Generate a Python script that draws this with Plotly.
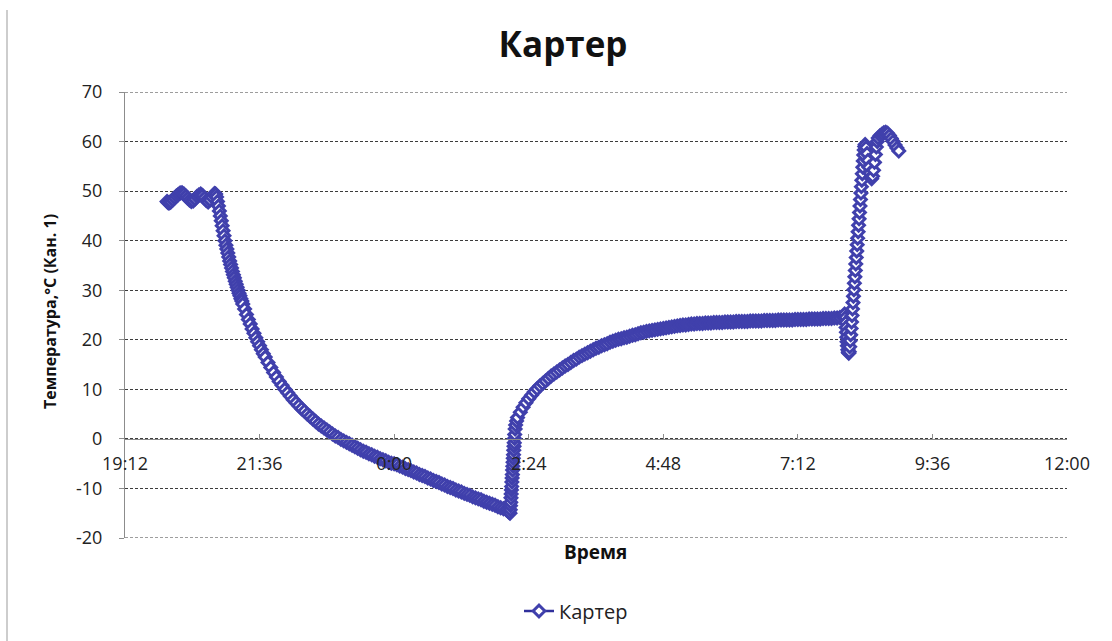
import plotly.graph_objects as go
from datetime import datetime

# ---------------- data (clock time, °C) ----------------
plateau_t = ["19:57", "19:58", "19:59", "20:00", "20:01", "20:03", "20:05", "20:07", "20:09", "20:11",
             "20:13", "20:15", "20:17", "20:19", "20:21", "20:23", "20:25", "20:27", "20:29", "20:31",
             "20:33", "20:35", "20:37", "20:39", "20:41", "20:43", "20:45", "20:47", "20:48"]
plateau_v = [47.9, 47.7, 47.6, 47.7, 47.8, 48.2, 48.6, 49.0, 49.3, 49.6,
             49.7, 49.4, 49.0, 48.6, 48.2, 47.9, 48.0, 48.4, 48.9, 49.2,
             49.4, 49.1, 48.6, 48.1, 47.8, 48.2, 48.8, 49.3, 49.5]

drop_t = ["20:49", "20:50", "20:51", "20:52", "20:53", "20:54", "20:55", "20:56", "20:57", "20:58",
          "20:59", "21:00", "21:01", "21:02", "21:03", "21:04", "21:05", "21:06", "21:07", "21:08",
          "21:09", "21:10", "21:11", "21:12", "21:13", "21:14", "21:15", "21:16", "21:17", "21:18",
          "21:20", "21:22", "21:24", "21:26", "21:28", "21:30", "21:32", "21:34", "21:36", "21:38",
          "21:40", "21:42"]
drop_v = [49.4, 48.8, 47.9, 47.0, 46.0, 45.0, 44.0, 43.0, 42.0, 41.0,
          40.0, 39.1, 38.3, 37.5, 36.7, 35.9, 35.2, 34.5, 33.8, 33.1,
          32.5, 31.8, 31.2, 30.6, 30.0, 29.4, 28.9, 28.3, 27.8, 27.2,
          26.2, 25.1, 24.1, 23.2, 22.2, 21.3, 20.4, 19.6, 18.8, 18.0,
          17.2, 16.5]

cooling_t = ["21:45", "21:48", "21:51", "21:54", "21:57", "22:00", "22:03", "22:06", "22:09", "22:12",
             "22:15", "22:18", "22:21", "22:24", "22:27", "22:30", "22:33", "22:36", "22:39", "22:42",
             "22:45", "22:48", "22:51", "22:54", "22:57", "23:00", "23:03", "23:06", "23:09", "23:12",
             "23:15", "23:18", "23:21", "23:24", "23:27", "23:30", "23:33", "23:36", "23:39", "23:42",
             "23:45", "23:48", "23:51", "23:54", "23:57", "00:00", "00:03", "00:06", "00:09", "00:12",
             "00:15", "00:18", "00:21", "00:24", "00:27", "00:30", "00:33", "00:36", "00:39", "00:42",
             "00:45", "00:48", "00:51", "00:54", "00:57", "01:00", "01:03", "01:06", "01:09", "01:12",
             "01:15", "01:18", "01:21", "01:24", "01:27", "01:30", "01:33", "01:36", "01:39", "01:42",
             "01:45", "01:48", "01:51", "01:54", "01:57", "02:00", "02:02", "02:03"]
cooling_v = [15.4, 14.4, 13.4, 12.5, 11.6, 10.8, 10.0, 9.3, 8.6, 7.9,
             7.3, 6.7, 6.1, 5.6, 5.0, 4.5, 4.0, 3.5, 3.0, 2.6,
             2.2, 1.8, 1.4, 1.0, 0.6, 0.3, -0.1, -0.4, -0.7, -1.0,
             -1.3, -1.6, -1.9, -2.2, -2.5, -2.7, -3.0, -3.2, -3.5, -3.7,
             -4.0, -4.2, -4.4, -4.7, -4.9, -5.0, -5.2, -5.5, -5.7, -6.0,
             -6.2, -6.4, -6.7, -6.9, -7.2, -7.4, -7.6, -7.9, -8.1, -8.4,
             -8.6, -8.8, -9.1, -9.3, -9.6, -9.8, -10.0, -10.3, -10.5, -10.7,
             -11.0, -11.2, -11.4, -11.7, -11.9, -12.1, -12.3, -12.6, -12.8, -13.0,
             -13.2, -13.4, -13.7, -13.9, -14.1, -14.3, -14.6, -14.8]

jump1_t = ["02:04:00", "02:04:15", "02:04:30", "02:04:45", "02:05:00", "02:05:15", "02:05:30", "02:05:45",
           "02:06:00", "02:06:15", "02:06:30", "02:06:45", "02:07:00", "02:07:15", "02:07:30", "02:07:45",
           "02:08:00", "02:08:15", "02:08:30", "02:08:45", "02:09:00", "02:09:30", "02:10:00", "02:11:00"]
jump1_v = [-15.0, -14.3, -13.5, -12.8, -11.9, -11.1, -10.3, -9.6,
           -8.7, -7.9, -7.2, -6.3, -5.5, -4.7, -3.9, -3.2,
           -2.3, -1.5, -0.8, 0.1, 0.9, 2.0, 2.8, 3.6]

warming_t = ["02:12", "02:15", "02:18", "02:21", "02:24", "02:27", "02:30", "02:33", "02:36", "02:39",
             "02:42", "02:45", "02:48", "02:51", "02:54", "02:57", "03:00", "03:03", "03:06", "03:09",
             "03:12", "03:15", "03:18", "03:21", "03:24", "03:27", "03:30", "03:33", "03:36", "03:39",
             "03:42", "03:45", "03:48", "03:51", "03:54", "03:57", "04:00", "04:03", "04:06", "04:09",
             "04:12", "04:15", "04:18", "04:21", "04:24", "04:27", "04:30", "04:33", "04:36", "04:39",
             "04:42", "04:45", "04:48", "04:51", "04:54", "04:57", "05:00", "05:03", "05:06", "05:09",
             "05:12", "05:15", "05:18", "05:21"]
warming_v = [4.3, 5.4, 6.4, 7.3, 8.1, 8.8, 9.5, 10.1, 10.7, 11.2,
             11.7, 12.2, 12.7, 13.1, 13.5, 13.9, 14.3, 14.7, 15.0, 15.4,
             15.8, 16.1, 16.5, 16.8, 17.1, 17.4, 17.7, 18.0, 18.3, 18.5,
             18.8, 19.0, 19.2, 19.5, 19.7, 19.9, 20.1, 20.2, 20.4, 20.5,
             20.7, 20.9, 21.0, 21.2, 21.4, 21.5, 21.7, 21.8, 21.9, 22.0,
             22.1, 22.2, 22.3, 22.4, 22.5, 22.6, 22.7, 22.8, 22.9, 23.0,
             23.0, 23.1, 23.2, 23.2]

steady_t = ["05:24", "05:27", "05:30", "05:33", "05:36", "05:39", "05:42", "05:45", "05:48", "05:51",
            "05:54", "05:57", "06:00", "06:03", "06:06", "06:09", "06:12", "06:15", "06:18", "06:21",
            "06:24", "06:27", "06:30", "06:33", "06:36", "06:39", "06:42", "06:45", "06:48", "06:51",
            "06:54", "06:57", "07:00", "07:03", "07:06", "07:09", "07:12", "07:15", "07:18", "07:21",
            "07:24", "07:27", "07:30", "07:33", "07:36", "07:39", "07:42", "07:45", "07:48", "07:51",
            "07:54", "07:57", "08:00", "08:02"]
steady_v = [23.3, 23.3, 23.3, 23.4, 23.4, 23.4, 23.5, 23.5, 23.5, 23.5,
            23.6, 23.6, 23.6, 23.6, 23.7, 23.7, 23.7, 23.7, 23.7, 23.8,
            23.8, 23.8, 23.8, 23.8, 23.9, 23.9, 23.9, 23.9, 23.9, 24.0,
            24.0, 24.0, 24.0, 24.0, 24.0, 24.1, 24.1, 24.1, 24.1, 24.1,
            24.2, 24.2, 24.2, 24.2, 24.2, 24.3, 24.3, 24.3, 24.3, 24.4,
            24.4, 24.5, 24.7, 25.2]

dip_t = ["08:03:00", "08:03:20", "08:03:40", "08:04:00", "08:04:20", "08:04:40", "08:05:00", "08:05:30",
         "08:06:00", "08:06:30"]
dip_v = [24.5, 23.5, 22.5, 21.5, 20.5, 19.6, 18.8, 18.0, 17.5, 17.3]

rise_t = ["08:07:00", "08:07:30", "08:08:00", "08:08:30", "08:09:00", "08:09:30", "08:10:00", "08:10:30",
          "08:11:00", "08:11:30", "08:12:00", "08:12:30", "08:13:00", "08:13:30", "08:14:00", "08:14:30",
          "08:15:00", "08:15:30", "08:16:00", "08:16:30", "08:17:00", "08:17:30", "08:18:00", "08:18:30",
          "08:19:00", "08:19:30", "08:20:00", "08:20:30", "08:21:00", "08:21:30", "08:22:00", "08:22:30",
          "08:23:00", "08:23:30", "08:24:00"]
rise_v = [17.6, 18.6, 19.8, 21.0, 22.3, 23.6, 24.9, 26.2,
          27.5, 28.8, 30.1, 31.4, 32.7, 34.0, 35.3, 36.6,
          37.9, 39.2, 40.5, 41.8, 43.1, 44.4, 45.7, 47.0,
          48.3, 49.6, 50.9, 52.2, 53.5, 54.8, 56.1, 57.3,
          58.3, 59.0, 59.4]

top_t = ["08:25", "08:26", "08:27", "08:28", "08:29", "08:30", "08:31", "08:32", "08:33", "08:34",
         "08:35", "08:36", "08:37", "08:38", "08:40", "08:42", "08:44", "08:46", "08:48", "08:50",
         "08:52", "08:54", "08:56", "08:58", "09:00"]
top_v = [58.8, 57.6, 56.2, 54.8, 53.6, 52.8, 52.5, 53.0, 54.2, 55.8,
         57.4, 58.9, 60.0, 60.7, 61.2, 61.5, 61.8, 61.9, 61.7, 61.2,
         60.6, 60.0, 59.3, 58.7, 58.1]

series_name = "Картер"
chart_title = "Картер"
x_title = "Время"
y_title = "Температура,°C (Кан. 1)"
y_ticks = [-20, -10, 0, 10, 20, 30, 40, 50, 60, 70]
y_tick_labels = ["-20", "-10", "0", "10", "20", "30", "40", "50", "60", "70"]
x_tick_labels = ["19:12", "21:36", "0:00", "2:24", "4:48", "7:12", "9:36", "12:00"]


def to_dt(s):
    parts = [int(p) for p in s.split(":")]
    while len(parts) < 3:
        parts.append(0)
    h, m, sec = parts
    day = 1 if h >= 19 else 2
    return datetime(2000, 1, day, h, m, sec)


all_t = plateau_t + drop_t + cooling_t + jump1_t + warming_t + steady_t + dip_t + rise_t + top_t
all_v = plateau_v + drop_v + cooling_v + jump1_v + warming_v + steady_v + dip_v + rise_v + top_v
x_vals = [to_dt(s) for s in all_t]

tick_dt = [to_dt(s) for s in x_tick_labels]
x_range = [tick_dt[0], tick_dt[-1]]
y_range = [y_ticks[0], y_ticks[-1]]
y_span = y_range[1] - y_range[0]

line_col = "#30309C"
mark_col = "#4040AC"
grid_col = "#3C3C3C"
grid_dash = "3px,2px"

fig = go.Figure()

# grid lines at the two ends of the value axis (plotly omits them at the range edges)
for yv in (y_ticks[0], y_ticks[-1]):
    fig.add_shape(type="line", xref="paper", yref="y", x0=0, x1=1, y0=yv, y1=yv,
                  line=dict(color=grid_col, width=1, dash=grid_dash), layer="below")

fig.add_trace(go.Scatter(
    x=x_vals, y=all_v, mode="lines+markers", name=series_name,
    line=dict(color=line_col, width=2.5),
    marker=dict(symbol="diamond", size=9, color="white",
                line=dict(color=mark_col, width=3)),
    cliponaxis=False,
))

font_family = "Open Sans, Noto Sans, DejaVu Sans, sans-serif"

fig.update_layout(
    width=1112, height=641,
    paper_bgcolor="white", plot_bgcolor="white",
    margin=dict(l=125, r=45, t=92, b=103, autoexpand=False),
    font=dict(family=font_family, color="#222222", size=17),
    title=dict(text="<b>" + chart_title + "</b>", x=563 / 1112, xref="container", xanchor="center",
               y=1 - 45 / 641, yref="container", yanchor="middle",
               font=dict(size=35, color="#111111", family=font_family)),
    showlegend=True,
    legend=dict(orientation="h", x=576 / 1112, xref="container", xanchor="center",
                y=30 / 641, yref="container", yanchor="middle",
                font=dict(size=20, color="#222222")),
    xaxis=dict(
        type="date", range=x_range,
        tickvals=tick_dt, ticktext=x_tick_labels,
        anchor="free", position=(0 - y_range[0]) / y_span,
        showline=True, linecolor="#8C8C8C", linewidth=1,
        ticks="inside", ticklen=5, tickcolor="#8C8C8C",
        showgrid=False, zeroline=False, automargin=False,
        tickfont=dict(size=18, color="#222222"),
        ticklabelstandoff=9,
    ),
    yaxis=dict(
        range=y_range, tickvals=y_ticks, ticktext=y_tick_labels,
        showline=True, linecolor="#8C8C8C", linewidth=1,
        ticks="outside", ticklen=5, tickcolor="#8C8C8C",
        showgrid=True, gridcolor=grid_col, gridwidth=1, griddash=grid_dash,
        zeroline=False, automargin=False,
        tickfont=dict(size=18, color="#222222"),
        ticklabelstandoff=13,
    ),
)

# axis titles as positioned text
fig.add_annotation(text="<b>" + x_title + "</b>", xref="paper", yref="paper",
                   x=(595 - 125) / 942, y=(538 - 552) / 446, showarrow=False,
                   xanchor="center", yanchor="middle",
                   font=dict(size=19, color="#111111", family=font_family))
fig.add_annotation(text="<b>" + y_title + "</b>", xref="paper", yref="paper",
                   x=(50 - 125) / 942, y=(538 - 312) / 446, showarrow=False, textangle=-90,
                   xanchor="center", yanchor="middle",
                   font=dict(size=16, color="#111111", family=font_family))

# left border of the chart area
fig.add_shape(type="line", xref="paper", yref="paper",
              x0=(7 - 125) / 942, x1=(7 - 125) / 942, y0=-103 / 446, y1=(538 - 10) / 446,
              line=dict(color="#BDBDBD", width=1.5))

# remove the browser's default page margin so the figure sits at the window origin
fig.write_html("out.html", config={"displayModeBar": False},
               post_script="document.body.style.margin='0';document.body.style.overflow='hidden';")
